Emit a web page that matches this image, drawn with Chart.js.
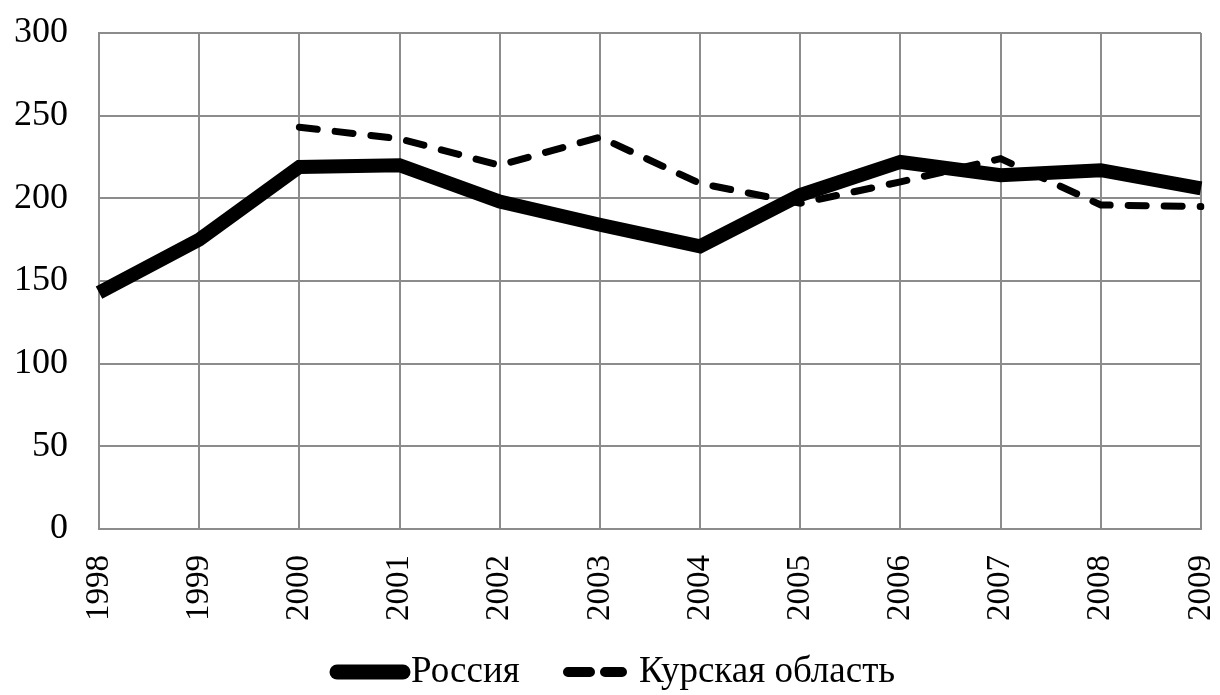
<!DOCTYPE html>
<html>
<head>
<meta charset="utf-8">
<script src="https://cdn.jsdelivr.net/npm/chart.js@4"></script>
<style>
  html, body { margin: 0; padding: 0; background: #fff; }
  #wrap { width: 1220px; height: 695px; }
</style>
</head>
<body>
<div id="wrap"><canvas id="c" width="1220" height="695"></canvas></div>
<script>
const years = ['1998','1999','2000','2001','2002','2003','2004','2005','2006','2007','2008','2009'];
const russia = [143, 175, 219, 220, 198, 184, 171, 202, 222, 214, 217, 206];
const kursk = [null, null, 243, 236, 220, 237, 209, 197, 210, 224, 196, 195];
const yTicks = [0, 50, 100, 150, 200, 250, 300];
const seriesNames = ['Россия', 'Курская область'];

const FONT = "'Liberation Serif', 'Times New Roman', serif";

// Custom legend drawn under the chart (matches Excel-style legend samples)
const legendPlugin = {
  id: 'customLegend',
  afterDraw(chart) {
    const ctx = chart.ctx;
    const y = 672;
    ctx.save();
    ctx.strokeStyle = '#000';
    ctx.fillStyle = '#000';
    ctx.lineCap = 'round';
    // Россия sample
    ctx.lineWidth = 15;
    ctx.beginPath();
    ctx.moveTo(337, y); ctx.lineTo(403, y);
    ctx.stroke();
    // Курская область sample (two dashes)
    ctx.lineWidth = 10;
    ctx.beginPath();
    ctx.moveTo(568, y); ctx.lineTo(590, y);
    ctx.moveTo(605, y); ctx.lineTo(622, y);
    ctx.stroke();
    ctx.font = "37px " + FONT;
    ctx.textBaseline = 'middle';
    ctx.textAlign = 'left';
    ctx.fillText(chart.data.datasets[0].label, 411, y);
    ctx.fillText(chart.data.datasets[1].label, 639, y);
    ctx.restore();
  }
};

new Chart(document.getElementById('c'), {
  type: 'line',
  data: {
    labels: years,
    datasets: [
      {
        label: seriesNames[0],
        data: russia,
        borderColor: '#000',
        backgroundColor: '#000',
        borderWidth: 14,
        borderCapStyle: 'butt',
        borderJoinStyle: 'miter',
        pointRadius: 0,
        tension: 0,
        fill: false
      },
      {
        label: seriesNames[1],
        data: kursk,
        borderColor: '#000',
        backgroundColor: '#000',
        borderWidth: 7,
        borderDash: [18, 18],
        borderCapStyle: 'round',
        pointRadius: 0,
        tension: 0,
        fill: false,
        spanGaps: false
      }
    ]
  },
  plugins: [legendPlugin],
  options: {
    responsive: false,
    animation: false,
    devicePixelRatio: 1,
    layout: { padding: { left: 0, right: 19, top: 33, bottom: 0 } },
    plugins: {
      tooltip: { enabled: false },
      legend: { display: false }
    },
    scales: {
      x: {
        offset: false,
        afterFit: (s) => { s.height = 166; s.paddingLeft = 0; s.paddingRight = 0; },
        grid: { color: '#8c8c8c', lineWidth: 2, drawTicks: false },
        border: { color: '#8c8c8c', width: 2 },
        ticks: {
          color: '#000',
          font: { family: FONT, size: 33 },
          minRotation: 90,
          maxRotation: 90,
          padding: 26,
          autoSkip: false
        }
      },
      y: {
        min: 0,
        max: 300,
        afterBuildTicks: (s) => { s.ticks = yTicks.map(v => ({ value: v })); },
        afterFit: (s) => { s.width = 99; s.paddingTop = 0; s.paddingBottom = 0; },
        grid: { color: '#8c8c8c', lineWidth: 2, drawTicks: false },
        border: { color: '#8c8c8c', width: 2 },
        ticks: {
          color: '#000',
          font: { family: FONT, size: 36 },
          padding: 31
        }
      }
    }
  }
});
</script>
</body>
</html>
